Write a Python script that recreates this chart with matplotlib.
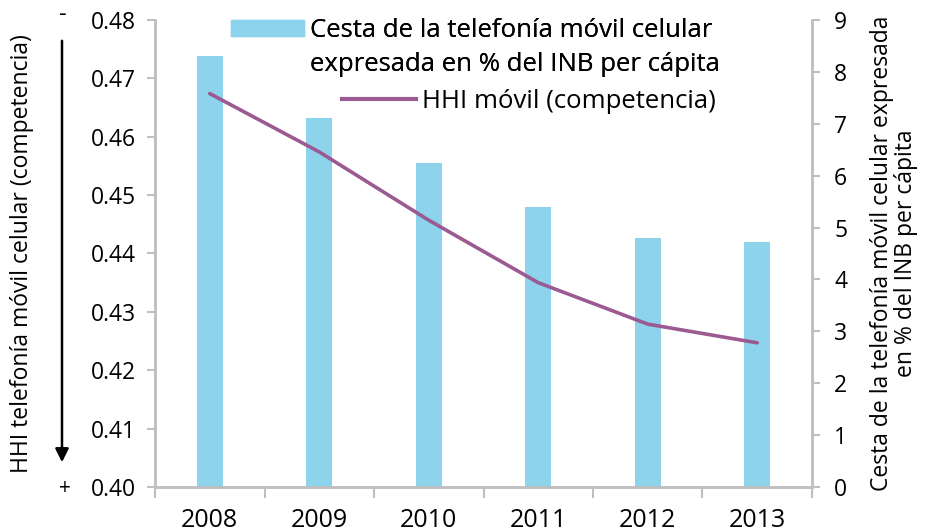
import matplotlib
matplotlib.use("Agg")
import matplotlib.pyplot as plt
from matplotlib.patches import Patch, FancyArrowPatch
from matplotlib.lines import Line2D

plt.rcParams['font.family'] = ['Open Sans', 'DejaVu Sans']

years = ['2008', '2009', '2010', '2011', '2012', '2013']
cesta = [8.31, 7.11, 6.24, 5.40, 4.79, 4.72]
hhi = [0.4674, 0.4574, 0.4457, 0.4350, 0.4279, 0.4247]

bar_color = '#8dd3ec'
line_color = '#9b5a92'
spine_color = '#bfbfbf'

fig = plt.figure(figsize=(9.3, 5.31), dpi=100)
ax = fig.add_axes([0.1667, 0.0829, 0.7064, 0.8794])
ax2 = ax.twinx()

x = list(range(len(years)))

# bars on the right scale
ax.bar(x, cesta, width=0.24, color=bar_color, zorder=2)
ax.set_ylim(0, 9)
ax.set_yticks(range(0, 10))
ax.yaxis.tick_right()
ax.yaxis.set_label_position('right')
ax.set_xlim(-0.5, len(years) - 0.5)

# line on the left scale
ax2.plot(x, hhi, color=line_color, lw=2.6, solid_capstyle='round',
         solid_joinstyle='round', zorder=3)
ax2.set_ylim(0.40, 0.48)
ax2.set_yticks([0.40, 0.41, 0.42, 0.43, 0.44, 0.45, 0.46, 0.47, 0.48])
ax2.set_yticklabels([f"{v:.2f}" for v in ax2.get_yticks()])
ax2.yaxis.tick_left()
ax2.yaxis.set_label_position('left')

# x ticks at category borders, labels at centres
ax.set_xticks([i - 0.5 for i in range(len(years) + 1)])
ax.set_xticklabels([])
ax.set_xticks(x, minor=True)
ax.set_xticklabels(years, minor=True)
ax.tick_params(axis='x', which='major', length=8, width=1.5, color=spine_color)
ax.tick_params(axis='x', which='minor', length=0, pad=15, labelsize=18)
ax.tick_params(axis='y', length=6, width=1.5, color=spine_color, labelsize=16.5, pad=10)
ax2.tick_params(axis='y', length=6, width=1.5, color=spine_color, labelsize=16.5, pad=8)

for a in (ax, ax2):
    a.spines['top'].set_visible(False)
    for s in ('left', 'right', 'bottom'):
        a.spines[s].set_color(spine_color)
        a.spines[s].set_linewidth(1.8)

ax.set_ylabel('Cesta de la telefonía móvil celular expresada\nen % del INB per cápita',
              fontsize=16.5, labelpad=16, linespacing=1.05)
ax2.set_ylabel('HHI telefonía móvil celular (competencia)', fontsize=16.5, labelpad=41)

# legends
leg1 = fig.legend([Patch(color=bar_color), Patch(visible=False)],
                  ['Cesta de la telefonía móvil celular',
                   'expresada en % del INB per cápita'],
                  loc='upper left', bbox_to_anchor=(0.229, 1.0), frameon=False,
                  fontsize=18.5, handlelength=2.85, handleheight=0.6,
                  handletextpad=0.22, labelspacing=0.35, borderpad=0.2)
leg2 = fig.legend([Line2D([0], [0], color=line_color, lw=3)],
                  ['HHI móvil (competencia)'],
                  loc='upper left', bbox_to_anchor=(0.348, 0.866), frameon=False,
                  fontsize=18.5, handlelength=2.9, handletextpad=0.22, borderpad=0.2)
fig.add_artist(leg1)

# competition arrow on the left
fig.add_artist(FancyArrowPatch(
    (62 / 930, 1 - 38 / 531), (62 / 930, 1 - 465 / 531),
    transform=fig.transFigure, arrowstyle='-|>', mutation_scale=20,
    color='black', lw=1.8))
fig.text(63 / 930, 1 - 15 / 531, '-', fontsize=17, ha='center', va='center')
fig.text(65 / 930, 1 - 489 / 531, '+', fontsize=15, ha='center', va='center')

fig.savefig('out.png', dpi=100)
